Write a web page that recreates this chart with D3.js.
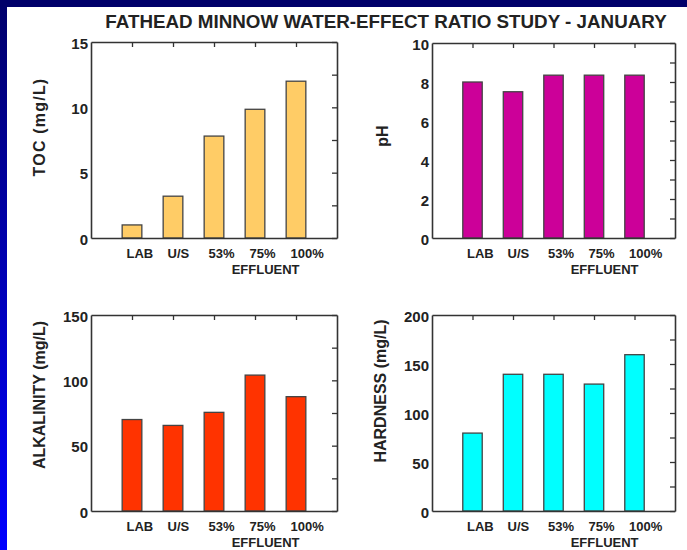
<!DOCTYPE html>
<html>
<head>
<meta charset="utf-8">
<script src="https://cdn.jsdelivr.net/npm/d3@7"></script>
<style>
  html, body { margin: 0; padding: 0; background: #fff; }
  svg { display: block; font-family: "Liberation Sans", Arial, Helvetica, sans-serif; }
  text { font-weight: bold; fill: #222; }
</style>
</head>
<body>
<svg id="chart" width="687" height="550"></svg>
<script>
// Sample sites along the x axis
const categories = ["LAB", "U/S", "53%", "75%", "100%"];

// Measured water quality per site
const tocValues = [1.0, 3.2, 7.8, 9.85, 12.0];
const phValues = [8.0, 7.5, 8.35, 8.35, 8.35];
const alkalinityValues = [70, 65.5, 75.5, 104, 87.5];
const hardnessValues = [79.5, 139.5, 139.5, 129.5, 159.5];

// Labelled y ticks and the minor tick step on the right-hand edge
const tocTicks = [0, 5, 10, 15];
const phTicks = [0, 2, 4, 6, 8, 10];
const alkalinityTicks = [0, 50, 100, 150];
const hardnessTicks = [0, 50, 100, 150, 200];
const tocMinor = 2.5, phMinor = 1, alkalinityMinor = 25, hardnessMinor = 25;

const titleText = "FATHEAD MINNOW WATER-EFFECT RATIO STUDY - JANUARY";
const groupLabel = "EFFLUENT";

const svg = d3.select("#chart");

// Slide frame: navy band across the top, blue gradient band down the left
const defs = svg.append("defs");
const grad = defs.append("linearGradient").attr("id", "sideBand")
  .attr("x1", 0).attr("y1", 0).attr("x2", 0).attr("y2", 1);
grad.append("stop").attr("offset", "0%").attr("stop-color", "#00006a");
grad.append("stop").attr("offset", "100%").attr("stop-color", "#0000ff");
svg.append("rect").attr("x", 0).attr("y", 0).attr("width", 687).attr("height", 550).attr("fill", "#fff");
svg.append("rect").attr("x", 0).attr("y", 0).attr("width", 7).attr("height", 550).attr("fill", "url(#sideBand)");
svg.append("rect").attr("x", 0).attr("y", 0).attr("width", 687).attr("height", 7).attr("fill", "#00006a");

svg.append("text")
  .attr("x", 386).attr("y", 28)
  .attr("text-anchor", "middle")
  .style("font-size", "18.8px")
  .text(titleText);

const panels = [
  { values: tocValues, ticks: tocTicks, minor: tocMinor, label: "TOC (mg/L)", color: "#ffcc66",
    box: { x0: 91, x1: 337, y0: 42, y1: 238 }, titleX: 39, titleY: 127, spacing: 1.2 },
  { values: phValues, ticks: phTicks, minor: phMinor, label: "pH", color: "#cc0099",
    box: { x0: 432, x1: 675, y0: 43, y1: 238 }, titleX: 382, titleY: 136, spacing: 0 },
  { values: alkalinityValues, ticks: alkalinityTicks, minor: alkalinityMinor, label: "ALKALINITY (mg/L)", color: "#ff3300",
    box: { x0: 91, x1: 337, y0: 315, y1: 511 }, titleX: 39, titleY: 395, spacing: 0 },
  { values: hardnessValues, ticks: hardnessTicks, minor: hardnessMinor, label: "HARDNESS (mg/L)", color: "#00ffff",
    box: { x0: 432, x1: 675, y0: 315, y1: 511 }, titleX: 380, titleY: 391, spacing: 0 }
];

const axisColor = "#333";
const labelShift = -6; // site labels start just left of each bar centre

panels.forEach(p => {
  const b = p.box;
  const yMax = p.ticks[p.ticks.length - 1];
  const x = d3.scalePoint().domain(categories).range([b.x0, b.x1]).padding(1);
  const y = d3.scaleLinear().domain([0, yMax]).range([b.y1, b.y0]);
  const barW = x.step() * 0.48;
  const g = svg.append("g");

  // Bars
  g.selectAll("rect.bar").data(p.values).enter().append("rect")
    .attr("class", "bar")
    .attr("x", (d, i) => x(categories[i]) - barW / 2)
    .attr("width", barW)
    .attr("y", d => y(d))
    .attr("height", d => y(0) - y(d))
    .attr("fill", p.color)
    .attr("stroke", "#444")
    .attr("stroke-width", 1.3);

  const minorTicks = d3.range(0, yMax + 1e-9, p.minor);

  // Left axis with bold value labels
  const left = g.append("g").attr("transform", `translate(${b.x0},0)`)
    .call(d3.axisLeft(y).tickValues(p.ticks).tickSize(0).tickPadding(3).tickFormat(d3.format("d")));
  left.selectAll("text").style("font-size", "15px").attr("dy", "0.4em");

  // Right edge: inward minor ticks
  g.append("g").attr("transform", `translate(${b.x1},0)`)
    .call(d3.axisLeft(y).tickValues(minorTicks).tickSize(5).tickSizeOuter(0).tickFormat(""));

  // Top edge: inward ticks at each site
  g.append("g").attr("transform", `translate(0,${b.y0})`)
    .call(d3.axisBottom(x).tickSize(5).tickSizeOuter(0).tickFormat(""));

  // Bottom edge with site labels
  const bottom = g.append("g").attr("transform", `translate(0,${b.y1})`)
    .call(d3.axisBottom(x).tickSize(0).tickSizeOuter(0));
  bottom.selectAll("text")
    .attr("dy", null).attr("y", 20).attr("x", labelShift)
    .attr("text-anchor", "start")
    .style("font-size", "13px");

  g.selectAll(".domain").attr("stroke", axisColor).attr("stroke-width", 1.6);
  g.selectAll(".tick line").attr("stroke", axisColor).attr("stroke-width", 1.3);

  // Group label centred under the effluent concentrations
  const labels = bottom.selectAll("text").nodes();
  const leftEdge = x(categories[2]) + labelShift;
  const rightEdge = x(categories[4]) + labelShift + labels[4].getComputedTextLength();
  g.append("text")
    .attr("x", (leftEdge + rightEdge) / 2)
    .attr("y", b.y1 + 36)
    .attr("text-anchor", "middle")
    .style("font-size", "13px")
    .text(groupLabel);

  // Rotated y-axis title
  g.append("text")
    .attr("transform", `translate(${p.titleX},${p.titleY}) rotate(-90)`)
    .attr("text-anchor", "middle")
    .attr("dy", "0.35em")
    .style("font-size", "16px")
    .style("letter-spacing", `${p.spacing}px`)
    .text(p.label);
});
</script>
</body>
</html>
